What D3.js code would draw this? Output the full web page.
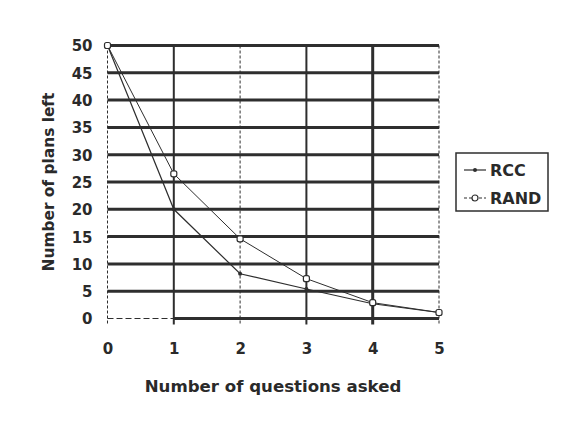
<!DOCTYPE html>
<html>
<head>
<meta charset="utf-8">
<script src="https://cdn.jsdelivr.net/npm/d3@7"></script>
<style>
  body { margin: 0; background: #fff; }
  text { font-family: "DejaVu Sans", sans-serif; font-weight: bold; fill: #2a2a2a; }
</style>
</head>
<body>
<div id="chart"></div>
<script>
const questions = [0, 1, 2, 3, 4, 5];
const rcc = [50, 20, 8.2, 5.4, 2.7, 1.1];
const rand = [50, 26.5, 14.6, 7.3, 2.9, 1.1];
const yTicks = [0, 5, 10, 15, 20, 25, 30, 35, 40, 45, 50];
const seriesNames = ["RCC", "RAND"];

const width = 572, height = 436;
const ink = "#2e2e2e";

const svg = d3.select("#chart")
  .append("svg")
  .attr("width", width)
  .attr("height", height);

const x = d3.scaleLinear().domain([0, 5]).range([107.5, 439]);
const y = d3.scaleLinear().domain([0, 50]).range([318.5, 45.5]);

// horizontal grid lines (heavy, like the scanned original)
svg.append("g")
  .selectAll("line")
  .data(yTicks.filter(d => d > 0))
  .join("line")
    .attr("x1", x(0))
    .attr("x2", x(5))
    .attr("y1", d => y(d))
    .attr("y2", d => y(d))
    .attr("stroke", ink)
    .attr("stroke-width", 3);

// baseline: thin dashed up to 1, heavy after
svg.append("line")
  .attr("x1", x(0)).attr("x2", x(1))
  .attr("y1", y(0)).attr("y2", y(0))
  .attr("stroke", ink).attr("stroke-width", 1)
  .attr("stroke-dasharray", "6,3");
svg.append("line")
  .attr("x1", x(1)).attr("x2", x(5))
  .attr("y1", y(0)).attr("y2", y(0))
  .attr("stroke", ink).attr("stroke-width", 3);

// vertical grid lines
const solidV = [1, 3, 4];
svg.append("g")
  .selectAll("line")
  .data(questions)
  .join("line")
    .attr("x1", d => x(d))
    .attr("x2", d => x(d))
    .attr("y1", y(50))
    .attr("y2", y(0) + 6)
    .attr("stroke", ink)
    .attr("stroke-width", d => d === 4 ? 3 : solidV.includes(d) ? 2 : 1)
    .attr("stroke-dasharray", d => solidV.includes(d) ? null : "3,2");

// axes labels
const yAxis = svg.append("g")
  .attr("transform", `translate(${x(0) - 15},0)`)
  .call(d3.axisLeft(y).tickValues(yTicks).tickSize(0).tickPadding(0));
yAxis.select(".domain").remove();
yAxis.selectAll("text")
  .style("font-size", "15px")
  .attr("font-family", null)
  .attr("fill", null)
  .attr("dy", "0.36em");

const xAxis = svg.append("g")
  .attr("transform", `translate(0,${y(0) + 25})`)
  .call(d3.axisBottom(x).tickValues(questions).tickFormat(d3.format("d")).tickSize(0).tickPadding(0));
xAxis.select(".domain").remove();
xAxis.selectAll("text")
  .style("font-size", "15px")
  .attr("font-family", null)
  .attr("fill", null);

svg.append("text")
  .attr("x", 273)
  .attr("y", 392)
  .attr("text-anchor", "middle")
  .style("font-size", "16.6px")
  .text("Number of questions asked");

svg.append("text")
  .attr("transform", `translate(54,182) rotate(-90)`)
  .attr("text-anchor", "middle")
  .style("font-size", "15.4px")
  .text("Number of plans left");

// series lines
const line = d3.line()
  .x((d, i) => x(questions[i]))
  .y(d => y(d));

svg.append("path")
  .datum(rcc)
  .attr("d", line)
  .attr("fill", "none")
  .attr("stroke", ink)
  .attr("stroke-width", 1.2);

svg.append("path")
  .datum(rand)
  .attr("d", line)
  .attr("fill", "none")
  .attr("stroke", ink)
  .attr("stroke-width", 1);

svg.append("g")
  .selectAll("circle")
  .data(rcc)
  .join("circle")
    .attr("cx", (d, i) => x(questions[i]))
    .attr("cy", d => y(d))
    .attr("r", 2)
    .attr("fill", ink);

svg.append("g")
  .selectAll("rect")
  .data(rand)
  .join("rect")
    .attr("x", (d, i) => x(questions[i]) - 3)
    .attr("y", d => y(d) - 3)
    .attr("width", 6)
    .attr("height", 6)
    .attr("rx", 2)
    .attr("fill", "#fff")
    .attr("stroke", ink)
    .attr("stroke-width", 1.2);

// legend
const legend = svg.append("g").attr("transform", "translate(456,153)");
legend.append("rect")
  .attr("width", 92)
  .attr("height", 58)
  .attr("fill", "#fff")
  .attr("stroke", ink)
  .attr("stroke-width", 1.5);

const items = legend.selectAll("g.item")
  .data(seriesNames)
  .join("g")
    .attr("class", "item")
    .attr("transform", (d, i) => `translate(0,${17 + i * 28})`);

items.append("line")
  .attr("x1", 8)
  .attr("x2", 30)
  .attr("stroke", ink)
  .attr("stroke-width", 1.2)
  .attr("stroke-dasharray", (d, i) => i === 1 ? "3,2" : null);

items.filter((d, i) => i === 0).append("circle")
  .attr("cx", 19).attr("r", 2).attr("fill", ink);
items.filter((d, i) => i === 1).append("circle")
  .attr("cx", 19).attr("r", 3).attr("fill", "#fff")
  .attr("stroke", ink).attr("stroke-width", 1.2);

items.append("text")
  .attr("x", 34)
  .attr("dy", "0.36em")
  .style("font-size", "16px")
  .text(d => d);
</script>
</body>
</html>
